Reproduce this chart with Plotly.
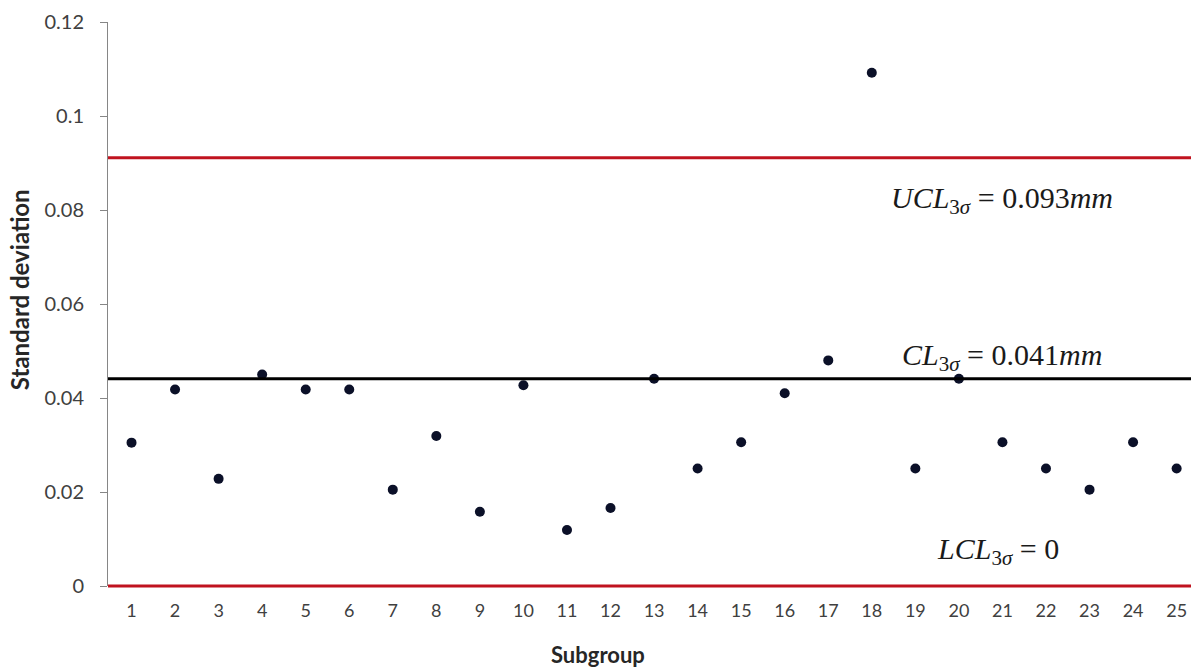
import plotly.graph_objects as go

subgroups = list(range(1, 26))
std_dev = [0.0305, 0.0418, 0.0228, 0.045, 0.0418, 0.0418, 0.0205, 0.0319, 0.0158, 0.0427,
           0.0119, 0.0166, 0.0441, 0.025, 0.0306, 0.041, 0.048, 0.1092, 0.025, 0.0441,
           0.0306, 0.025, 0.0205, 0.0306, 0.025]
ucl_value = 0.0911
cl_value = 0.0441
lcl_value = 0.0
y_ticks = [0, 0.02, 0.04, 0.06, 0.08, 0.1, 0.12]
y_ticktext = ["0", "0.02", "0.04", "0.06", "0.08", "0.1", "0.12"]
labels = [
    ("<i>UCL</i><sub>3<i>σ</i></sub> = 0.093<i>mm</i>", 20.98, 0.0822),
    ("<i>CL</i><sub>3<i>σ</i></sub> = 0.041<i>mm</i>", 20.98, 0.0488),
    ("<i>LCL</i><sub>3<i>σ</i></sub> = 0", 20.9, 0.0075),
]
y_range = [0, 0.12]

fig = go.Figure()
for yv, col in [(ucl_value, "#c0131f"), (cl_value, "#000000"), (lcl_value, "#c0131f")]:
    yp = (yv - y_range[0]) / (y_range[1] - y_range[0])
    fig.add_shape(type="line", xref="paper", x0=0, x1=1, yref="paper", y0=yp, y1=yp,
                  line=dict(color=col, width=3), layer="above")

fig.add_trace(go.Scatter(x=subgroups, y=std_dev, mode="markers",
                         marker=dict(color="#0b1028", size=10), showlegend=False))

for txt, xv, yv in labels:
    fig.add_annotation(x=xv, y=yv, text=txt, showarrow=False,
                       font=dict(family="Liberation Serif", size=30, color="#1a1a1a"))

fig.add_annotation(xref="paper", yref="paper", x=0.452, y=-0.121,
                   text="<b>Subgroup</b>", showarrow=False, yanchor="middle",
                   font=dict(family="Lato", size=22, color="#262626"))
fig.add_annotation(xref="paper", yref="paper", x=-0.081, y=0.525, textangle=-90,
                   text="<b>Standard deviation</b>", showarrow=False, xanchor="center",
                   yanchor="middle", font=dict(family="Lato", size=24, color="#262626"))

fig.update_layout(
    width=1191, height=667,
    margin=dict(l=108, r=0, t=22, b=81),
    plot_bgcolor="white", paper_bgcolor="white",
    xaxis=dict(range=[0.46, 25.33], tickmode="array", tickvals=subgroups,
               ticktext=[str(s) for s in subgroups], showgrid=False, zeroline=False,
               showline=False, ticks="", ticklabelstandoff=12,
               tickfont=dict(family="Lato", size=18, color="#404040")),
    yaxis=dict(range=y_range, tickmode="array", tickvals=y_ticks, ticktext=y_ticktext,
               showgrid=False, zeroline=False, showline=True, linecolor="#868686", linewidth=1,
               ticks="outside", ticklen=7, tickcolor="#868686", ticklabelstandoff=12,
               tickfont=dict(family="Lato", size=20, color="#404040")),
)

fig.write_html("out.html", config={"displayModeBar": False},
               post_script="document.body.style.margin='0px';")
